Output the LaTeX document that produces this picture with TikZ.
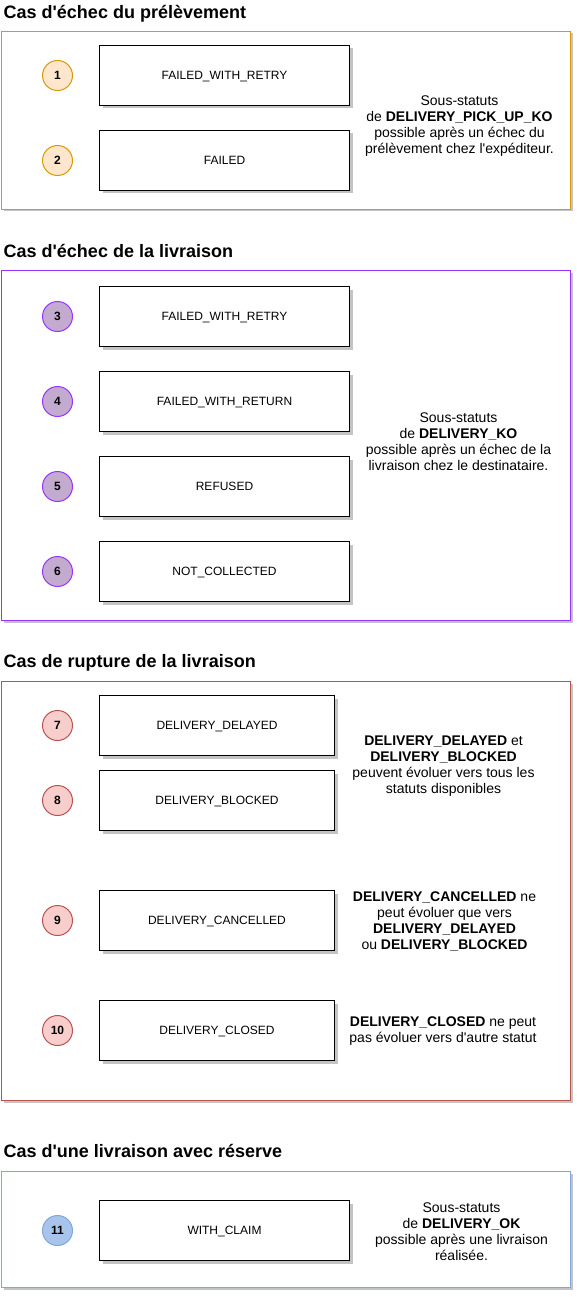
\documentclass[tikz,border=0pt]{standalone}
\usepackage{fontspec}
\setmainfont{Liberation Sans}[Ligatures=TeXOff]
\usetikzlibrary{positioning}
\usetikzlibrary{shadows}

\definecolor{pickline}{HTML}{D79B00}
\definecolor{pickfill}{HTML}{FFE6CC}
\definecolor{koline}{HTML}{9933FF}
\definecolor{kofill}{HTML}{C3ABD0}
\definecolor{breakline}{HTML}{B85450}
\definecolor{breakfill}{HTML}{F8CECC}
\definecolor{claimline}{HTML}{7EA6E0}
\definecolor{claimfill}{HTML}{A9C4EB}
\definecolor{shade}{HTML}{C4C4C4}

\tikzset{
  statebox/.style={draw=black,fill=white,line width=1pt,minimum width=250pt,minimum height=60pt,inner sep=0pt,
    text height=8.6pt,text depth=0pt,
    font=\fontsize{12}{14}\selectfont,drop shadow={shadow xshift=3pt,shadow yshift=-3pt,fill=shade,opacity=1}},
  narrowbox/.style={statebox,minimum width=235pt},
  badge/.style={circle,line width=1pt,minimum size=30pt,inner sep=0pt,text height=8.6pt,text depth=0pt,
    font=\fontsize{12}{14}\selectfont\bfseries},
  note/.style={align=center,inner sep=0pt,font=\fontsize{14}{16}\selectfont},
  heading/.style={anchor=base west,inner sep=0pt,font=\fontsize{18}{20}\selectfont\bfseries},
  frameshade/.style={fill=shade,draw=none},
  frame/.style={fill=white,line width=1pt},
}

\begin{document}
\begin{tikzpicture}[x=1pt,y=-1pt]
\useasboundingbox (0,0) rectangle (577,1297);
\begin{scope}[shift={(0.5,0.5)}]

% echec du prelevement
\node[heading] (titlepick) at (3,18) {Cas d'échec du prélèvement};
\fill[frameshade] (3,33) rectangle (572,211);
\draw[frame,draw=pickline] (1,31) rectangle (570,209);
\node[statebox] (pickretry) at (224,75) {FAILED\_WITH\_RETRY};
\node[statebox] (pickfailed) at (224,160) {FAILED};
\node[badge,draw=pickline,fill=pickfill] (num1) at (57,75) {1};
\node[badge,draw=pickline,fill=pickfill] (num2) at (57,160) {2};
\node[note] (notepick) at (459,125.5) {Sous-statuts\\ de \textbf{DELIVERY\_PICK\_UP\_KO}\\ possible après un échec du\\ prélèvement chez l'expéditeur.};

% echec de la livraison
\node[heading] (titleko) at (3,257) {Cas d'échec de la livraison};
\fill[frameshade] (3,272) rectangle (572,622);
\draw[frame,draw=koline] (1,270) rectangle (570,620);
\node[statebox] (koretry) at (224,316) {FAILED\_WITH\_RETRY};
\node[statebox] (koreturn) at (224,401) {FAILED\_WITH\_RETURN};
\node[statebox] (korefused) at (224,486) {REFUSED};
\node[statebox] (kocollect) at (224,571) {NOT\_COLLECTED};
\foreach \n/\y in {3/316,4/401,5/486,6/571}
  \node[badge,draw=koline,fill=kofill] (num\n) at (57,\y) {\n};
\node[note] (noteko) at (458,441) {Sous-statuts\\ de \textbf{DELIVERY\_KO}\\ possible après un échec de la\\ livraison chez le destinataire.};

% rupture de la livraison
\node[heading] (titlebreak) at (3,667) {Cas de rupture de la livraison};
\fill[frameshade] (3,683) rectangle (572,1102);
\draw[frame,draw=breakline] (1,681) rectangle (570,1100);
\node[narrowbox] (delayed) at (216.5,725) {DELIVERY\_DELAYED};
\node[narrowbox] (blocked) at (216.5,800) {DELIVERY\_BLOCKED};
\node[narrowbox] (cancelled) at (216.5,920) {DELIVERY\_CANCELLED};
\node[narrowbox] (closed) at (216.5,1030) {DELIVERY\_CLOSED};
\foreach \n/\y in {7/725,8/800,9/920,10/1030}
  \node[badge,draw=breakline,fill=breakfill] (num\n) at (57,\y) {\n};
\node[note] (notedelayed) at (443,766) {\textbf{DELIVERY\_DELAYED} et\\ \textbf{DELIVERY\_BLOCKED}\\ peuvent évoluer vers tous les\\ statuts disponibles};
\node[note] (notecancelled) at (444,921) {\textbf{DELIVERY\_CANCELLED} ne\\ peut évoluer que vers\\ \textbf{DELIVERY\_DELAYED}\\ ou \textbf{DELIVERY\_BLOCKED}};
\node[note] (noteclosed) at (442.5,1031) {\textbf{DELIVERY\_CLOSED} ne peut\\ pas évoluer vers d'autre statut};

% livraison avec reserve
\node[heading] (titleclaim) at (3,1157) {Cas d'une livraison avec réserve};
\fill[frameshade] (3,1173) rectangle (572,1289);
\draw[frame,draw=claimline] (1,1171) rectangle (570,1287);
\node[statebox] (claim) at (224,1230) {WITH\_CLAIM};
\node[badge,draw=claimline,fill=claimfill] (num11) at (57,1230) {11};
\node[note] (noteclaim) at (461,1231.5) {Sous-statuts\\ de \textbf{DELIVERY\_OK}\\ possible après une livraison\\ réalisée.};

\end{scope}
\end{tikzpicture}
\end{document}
